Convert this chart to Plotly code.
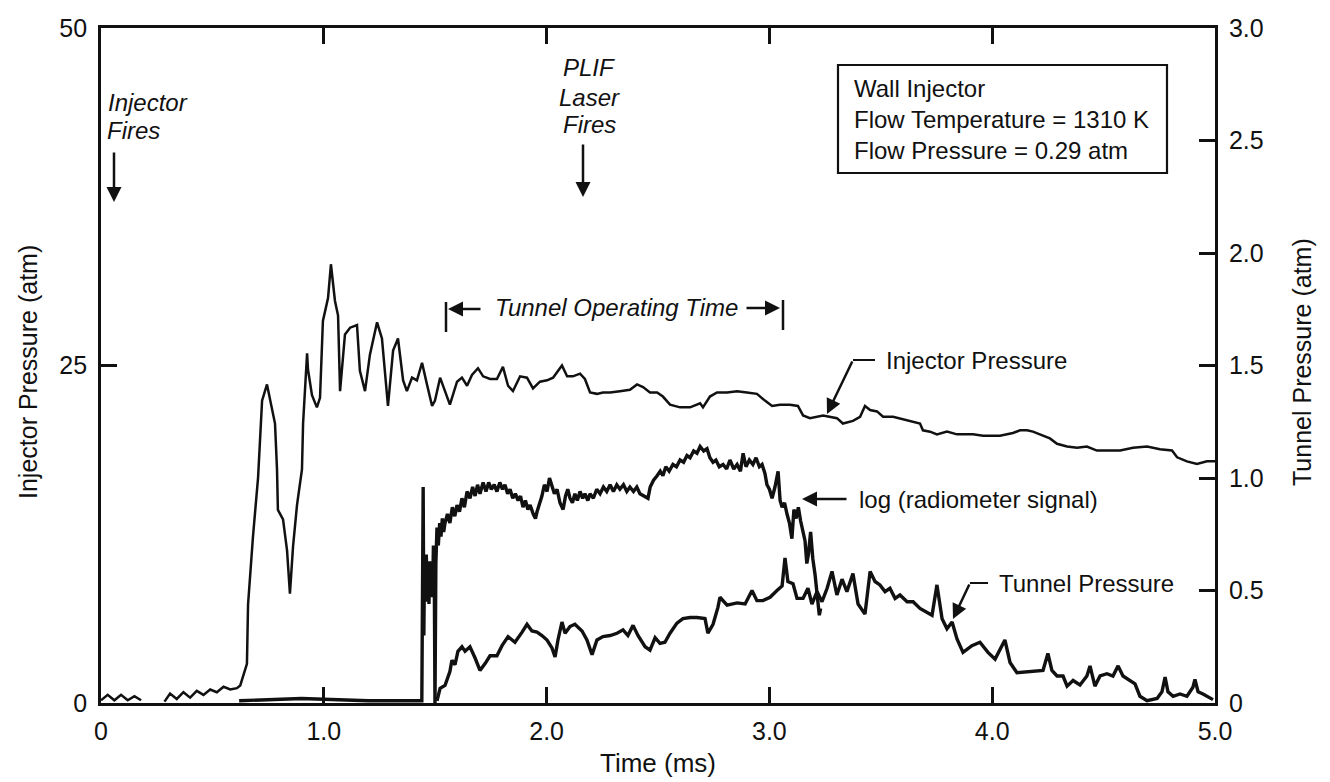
import plotly.graph_objects as go

# ---------------- data ----------------
inj_t = [0.000, 0.030, 0.060, 0.090, 0.120, 0.150, 0.180, None,
         0.285, 0.310, 0.340, 0.370, 0.400, 0.430, 0.460, 0.490, 0.520, 0.550, 0.580, 0.610, 0.625,
         0.633, 0.655, 0.660, 0.682, 0.705, 0.714, 0.723, 0.745, 0.768, 0.781, 0.790, 0.794,
         0.817, 0.835, 0.848, 0.862, 0.880, 0.902, 0.907, 0.925, 0.929, 0.947, 0.969, 0.983,
         0.996, 1.019, 1.032, 1.050, 1.064, 1.073, 1.095, 1.118, 1.149, 1.162, 1.185, 1.207,
         1.239, 1.261, 1.288, 1.311, 1.333, 1.356, 1.373, 1.396, 1.418, 1.441, 1.463, 1.486,
         1.499, 1.522, 1.544, 1.566, 1.598, 1.620, 1.643, 1.665, 1.692, 1.715, 1.746, 1.777,
         1.804, 1.827, 1.849, 1.881, 1.912, 1.939, 1.970, 2.002, 2.029, 2.069, 2.092, 2.118,
         2.150, 2.172, 2.195, 2.226, 2.253, 2.285, 2.329, 2.374, 2.406, 2.433, 2.464, 2.496,
         2.522, 2.554, 2.599, 2.644, 2.689, 2.702, 2.733, 2.765, 2.810, 2.855, 2.899, 2.944,
         2.980, 3.012, 3.047, 3.092, 3.128, 3.151, 3.182, 3.241, 3.303, 3.330, 3.375, 3.407,
         3.429, 3.452, 3.483, 3.510, 3.555, 3.600, 3.645, 3.676, 3.689, 3.721, 3.752, 3.797,
         3.842, 3.914, 3.959, 4.035, 4.093, 4.125, 4.156, 4.183, 4.228, 4.259, 4.291, 4.336,
         4.381, 4.425, 4.470, 4.515, 4.574, 4.632, 4.695, 4.753, 4.807, 4.830, 4.874, 4.919,
         4.964, 5.000]
inj_p = [0.2, 0.6, 0.2, 0.6, 0.2, 0.5, 0.2, None,
         0.1, 0.7, 0.3, 0.8, 0.4, 0.9, 0.6, 1.0, 0.8, 1.2, 1.0, 1.1, 1.3,
         1.7, 2.9, 7.3, 12.3, 16.7, 19.9, 22.4, 23.6, 21.7, 20.7, 17.3, 14.3,
         13.6, 11.3, 8.1, 11.6, 14.7, 17.3, 20.7, 25.9, 24.7, 22.8, 21.9, 22.6,
         28.3, 30.0, 32.5, 29.8, 28.7, 23.1, 27.3, 27.8, 28.0, 24.6, 23.1, 25.8,
         28.2, 27.0, 22.0, 26.1, 27.0, 23.9, 23.1, 24.1, 23.9, 25.2, 23.6, 22.0,
         22.4, 24.1, 23.1, 22.1, 23.8, 24.1, 23.5, 24.3, 24.8, 24.2, 24.0, 24.0,
         24.9, 23.5, 23.1, 24.2, 24.1, 23.3, 23.8, 23.9, 24.1, 25.0, 24.2, 24.2,
         24.4, 24.0, 23.0, 22.9, 23.0, 23.0, 23.1, 23.2, 23.6, 23.4, 23.0, 23.0,
         22.7, 22.1, 21.9, 21.9, 22.2, 21.9, 22.7, 23.0, 23.0, 23.1, 23.0, 22.9,
         22.4, 22.0, 22.1, 22.1, 22.0, 21.3, 21.1, 21.3, 21.1, 20.7, 20.9, 21.2,
         22.0, 21.7, 21.6, 21.2, 21.2, 21.0, 20.8, 20.7, 20.2, 20.1, 19.9, 20.1,
         19.9, 19.9, 19.8, 19.8, 20.0, 20.2, 20.2, 20.1, 19.8, 19.6, 19.2, 19.0,
         18.9, 19.0, 18.7, 18.7, 18.7, 18.9, 19.0, 18.8, 18.7, 18.2, 17.9, 17.7,
         17.9, 17.9]

rad_t = [0.62, 0.90, 1.20, 1.440, 1.446, 1.449, 1.452, 1.456, 1.460, 1.464, 1.468, 1.472,
         1.476, 1.480, 1.484, 1.488, 1.492, 1.496, 1.499, 1.503, 1.508, 1.514, 1.520, 1.526,
         1.532, 1.538, 1.544, 1.555, 1.566, 1.577, 1.588, 1.598, 1.609, 1.620, 1.631, 1.643,
         1.656, 1.668, 1.679, 1.690, 1.701, 1.715, 1.728, 1.740, 1.752, 1.765, 1.777, 1.790,
         1.802, 1.813, 1.825, 1.836, 1.848, 1.860, 1.872, 1.883, 1.894, 1.905, 1.916, 1.926,
         1.940, 1.950, 1.957, 1.968, 1.979, 1.990, 2.002, 2.013, 2.024, 2.035, 2.047, 2.060,
         2.074, 2.085, 2.095, 2.105, 2.116, 2.127, 2.138, 2.150, 2.162, 2.172, 2.185, 2.195,
         2.210, 2.225, 2.240, 2.255, 2.270, 2.285, 2.300, 2.315, 2.329, 2.345, 2.360, 2.374,
         2.390, 2.405, 2.419, 2.437, 2.455, 2.465, 2.480, 2.496, 2.510, 2.522, 2.535, 2.550,
         2.567, 2.583, 2.599, 2.615, 2.630, 2.644, 2.660, 2.675, 2.689, 2.705, 2.720, 2.733,
         2.747, 2.760, 2.775, 2.792, 2.808, 2.823, 2.840, 2.855, 2.870, 2.882, 2.895, 2.910,
         2.926, 2.940, 2.955, 2.967, 2.980, 2.989, 3.000, 3.012, 3.025, 3.039, 3.048, 3.057,
         3.068, 3.079, 3.090, 3.101, 3.110, 3.120, 3.130, 3.140, 3.150, 3.160, 3.168, 3.175,
         3.185, 3.195, 3.205, 3.212, 3.218, 3.224, 3.230]
rad_v = [0.01, 0.02, 0.01, 0.01, 0.96, 0.30, 0.62, 0.45, 0.66, 0.47, 0.60, 0.44,
         0.63, 0.50, 0.58, 0.47, 0.70, 0.55, 0.00, 0.62, 0.78, 0.70, 0.80, 0.74,
         0.82, 0.76, 0.80, 0.84, 0.80, 0.87, 0.83, 0.88, 0.85, 0.91, 0.87, 0.94,
         0.91, 0.96, 0.92, 0.97, 0.93, 0.98, 0.94, 0.98, 0.95, 0.97, 0.94, 0.98,
         0.95, 0.97, 0.93, 0.95, 0.91, 0.93, 0.90, 0.92, 0.87, 0.90, 0.86, 0.88,
         0.84, 0.82, 0.85, 0.88, 0.92, 0.97, 0.94, 1.00, 0.97, 0.93, 0.95, 0.89,
         0.86, 0.92, 0.95, 0.91, 0.89, 0.93, 0.90, 0.94, 0.91, 0.93, 0.90, 0.93,
         0.91, 0.95, 0.93, 0.96, 0.94, 0.97, 0.94, 0.97, 0.95, 0.97, 0.94, 0.96,
         0.94, 0.96, 0.93, 0.92, 0.91, 0.96, 0.99, 1.01, 1.03, 1.01, 1.05, 1.03,
         1.06, 1.05, 1.08, 1.07, 1.10, 1.09, 1.12, 1.11, 1.14, 1.12, 1.13, 1.09,
         1.07, 1.08, 1.05, 1.06, 1.04, 1.08, 1.04, 1.06, 1.03, 1.11, 1.05, 1.08,
         1.06, 1.09, 1.05, 1.06, 1.02, 0.97, 0.95, 0.91, 0.96, 1.03, 0.90, 0.87,
         0.89, 0.84, 0.80, 0.73, 0.86, 0.82, 0.87, 0.81, 0.76, 0.72, 0.62, 0.66,
         0.76, 0.64, 0.57, 0.50, 0.44, 0.39, 0.42]

tun_t = [1.508, 1.522, 1.544, 1.566, 1.575, 1.589, 1.602, 1.620, 1.634, 1.656, 1.679, 1.701,
         1.724, 1.746, 1.777, 1.800, 1.827, 1.858, 1.890, 1.912, 1.934, 1.957, 1.979, 2.002,
         2.024, 2.038, 2.051, 2.069, 2.083, 2.105, 2.127, 2.159, 2.181, 2.204, 2.226, 2.253,
         2.285, 2.316, 2.343, 2.365, 2.388, 2.410, 2.442, 2.464, 2.487, 2.509, 2.531, 2.554,
         2.585, 2.612, 2.644, 2.675, 2.711, 2.724, 2.747, 2.769, 2.778, 2.810, 2.855, 2.891,
         2.922, 2.944, 2.971, 3.003, 3.034, 3.057, 3.070, 3.083, 3.106, 3.124, 3.151, 3.173,
         3.191, 3.214, 3.236, 3.259, 3.281, 3.303, 3.326, 3.348, 3.375, 3.398, 3.429, 3.452,
         3.474, 3.496, 3.519, 3.541, 3.564, 3.586, 3.618, 3.645, 3.676, 3.707, 3.730, 3.752,
         3.775, 3.797, 3.820, 3.842, 3.869, 3.909, 3.945, 3.981, 4.013, 4.057, 4.080, 4.111,
         4.156, 4.201, 4.228, 4.250, 4.268, 4.291, 4.318, 4.336, 4.363, 4.394, 4.425, 4.439,
         4.461, 4.484, 4.515, 4.542, 4.565, 4.587, 4.619, 4.641, 4.663, 4.695, 4.740, 4.762,
         4.776, 4.789, 4.812, 4.843, 4.874, 4.901, 4.910, 4.924, 4.946, 4.969, 4.991]
tun_p = [0.01, 0.065, 0.078, 0.14, 0.19, 0.17, 0.23, 0.25, 0.23, 0.25, 0.20, 0.145,
         0.175, 0.21, 0.21, 0.255, 0.295, 0.27, 0.315, 0.35, 0.32, 0.315, 0.30, 0.28,
         0.245, 0.205, 0.28, 0.36, 0.31, 0.34, 0.35, 0.32, 0.28, 0.215, 0.28, 0.295,
         0.30, 0.31, 0.325, 0.30, 0.345, 0.30, 0.25, 0.235, 0.29, 0.265, 0.27, 0.31,
         0.355, 0.375, 0.38, 0.38, 0.375, 0.31, 0.35, 0.425, 0.47, 0.435, 0.445, 0.44,
         0.50, 0.455, 0.455, 0.47, 0.50, 0.52, 0.645, 0.54, 0.53, 0.465, 0.465, 0.51,
         0.44, 0.495, 0.45, 0.51, 0.585, 0.48, 0.55, 0.495, 0.575, 0.44, 0.395, 0.585,
         0.54, 0.525, 0.495, 0.51, 0.465, 0.48, 0.45, 0.45, 0.42, 0.405, 0.39, 0.525,
         0.375, 0.33, 0.36, 0.285, 0.225, 0.255, 0.27, 0.225, 0.195, 0.28, 0.18, 0.135,
         0.14, 0.145, 0.145, 0.22, 0.145, 0.12, 0.12, 0.075, 0.10, 0.08, 0.12, 0.165,
         0.075, 0.12, 0.13, 0.12, 0.165, 0.12, 0.10, 0.085, 0.03, 0.01, 0.02, 0.05,
         0.115, 0.05, 0.03, 0.04, 0.03, 0.07, 0.105, 0.05, 0.04, 0.025, 0.015]

x_tickvals = [0, 1, 2, 3, 4, 5]
x_ticktext = ["0", "1.0", "2.0", "3.0", "4.0", "5.0"]
y_tickvals = [0, 25, 50]
y2_tickvals = [0, 0.5, 1.0, 1.5, 2.0, 2.5, 3.0]
y2_ticktext = ["0", "0.5", "1.0", "1.5", "2.0", "2.5", "3.0"]

# ---------------- figure ----------------
W, H = 1330, 782
L, R, T, B = 101, 115, 28, 79
PW, PH = W - L - R, H - T - B


def px(x):
    return (x - L) / PW


def py(y):
    return (H - B - y) / PH


FONT = "Liberation Sans, Arial, Helvetica, sans-serif"
BLACK = "#111111"

fig = go.Figure()
fig.add_trace(go.Scatter(x=inj_t, y=inj_p, mode="lines", name="Injector Pressure",
                         line=dict(color=BLACK, width=2.5), yaxis="y"))
fig.add_trace(go.Scatter(x=rad_t, y=rad_v, mode="lines", name="log (radiometer signal)",
                         line=dict(color=BLACK, width=3.4), yaxis="y2"))
fig.add_trace(go.Scatter(x=tun_t, y=tun_p, mode="lines", name="Tunnel Pressure",
                         line=dict(color=BLACK, width=3.4), yaxis="y2"))

axis_common = dict(showline=True, linecolor=BLACK, linewidth=2.8, ticks="inside",
                   ticklen=16, tickwidth=2.5, tickcolor=BLACK, showgrid=False,
                   zeroline=False, tickfont=dict(family=FONT, size=25, color=BLACK))

fig.update_layout(
    width=W, height=H,
    margin=dict(l=L, r=R, t=T, b=B),
    plot_bgcolor="white", paper_bgcolor="white",
    showlegend=False,
    font=dict(family=FONT, color=BLACK, size=24),
    xaxis=dict(range=[0, 5], tickvals=x_tickvals, ticktext=x_ticktext, mirror="ticks",
               ticklabelstandoff=4, **axis_common),
    yaxis=dict(range=[0, 50], tickvals=y_tickvals, side="left", ticklabelstandoff=6,
               **axis_common),
    yaxis2=dict(range=[0, 3], tickvals=y2_tickvals, ticktext=y2_ticktext, side="right",
                overlaying="y", ticklabelstandoff=6, **axis_common),
)

ann = []


def text(x, y, s, anchor="left", size=24, angle=0):
    ann.append(dict(x=px(x), y=py(y), xref="paper", yref="paper", text=s, showarrow=False,
                    xanchor=anchor, yanchor="middle", textangle=angle,
                    font=dict(family=FONT, size=size, color=BLACK)))


def arrow(hx, hy, tx, ty):
    ann.append(dict(x=px(hx), y=py(hy), xref="paper", yref="paper", text="",
                    showarrow=True, ax=tx - hx, ay=ty - hy, axref="pixel", ayref="pixel",
                    arrowhead=2, arrowsize=1.2, arrowwidth=2.5, arrowcolor=BLACK))


# axis titles
text(658, 763, "Time (ms)", anchor="center", size=26)
text(28, 372, "Injector Pressure (atm)", anchor="center", size=25, angle=-90)
text(1302, 362, "Tunnel Pressure (atm)", anchor="center", size=25, angle=-90)

# event labels
text(106, 102, "<i>Injector</i>")
text(105, 130, "<i>Fires</i>")
arrow(114, 202, 114, 151)

text(589, 68, "<i>PLIF</i>", anchor="center")
text(589, 97, "<i>Laser</i>", anchor="center")
text(589, 125, "<i>Fires</i>", anchor="center")
arrow(583, 197, 583, 143)

# tunnel operating time
text(493, 307, "<i>Tunnel Operating Time</i>")
arrow(448, 309, 482, 309)
arrow(780, 308, 745, 308)

# curve labels
text(884, 360, "Injector Pressure")
arrow(827, 414, 853, 360)
text(857, 499, "log (radiometer signal)")
arrow(802, 499, 848, 499)
text(997, 583, "Tunnel Pressure")
arrow(953, 619, 970, 583)

# info box
text(852, 88, "Wall Injector")
text(852, 119, "Flow Temperature = 1310 K")
text(852, 151, "Flow Pressure = 0.29 atm")

shapes = []


def seg(x0, y0, x1, y1, w=2.5):
    shapes.append(dict(type="line", xref="paper", yref="paper", x0=px(x0), y0=py(y0),
                       x1=px(x1), y1=py(y1), line=dict(color=BLACK, width=w)))


seg(446, 302, 446, 332)
seg(783, 300, 783, 330)
seg(853, 360, 875, 360, 2)
seg(970, 583, 988, 583, 2)
shapes.append(dict(type="rect", xref="paper", yref="paper", x0=px(838), y0=py(65),
                   x1=px(1167), y1=py(173), line=dict(color=BLACK, width=2.2)))

fig.update_layout(annotations=ann, shapes=shapes)
fig.write_html("out.html")
